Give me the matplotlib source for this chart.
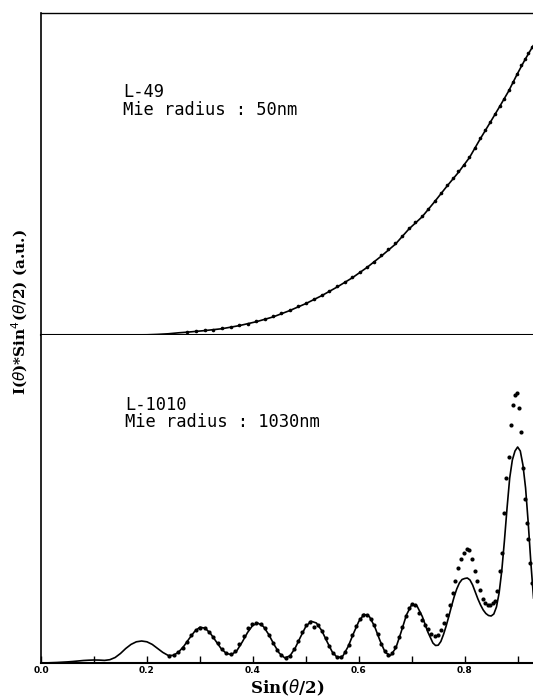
import matplotlib
matplotlib.use('Agg')
import matplotlib.pyplot as plt

# upper panel, L-49 (50 nm): measured points and Mie fit
top_x = [0.2756, 0.2924, 0.3090, 0.3256, 0.3420, 0.3584, 0.3746, 0.3907,
         0.4067, 0.4226, 0.4384, 0.4540, 0.4695, 0.4848, 0.5000, 0.5150,
         0.5299, 0.5446, 0.5592, 0.5736, 0.5878, 0.6018, 0.6157, 0.6293,
         0.6428, 0.6561, 0.6691, 0.6820, 0.6947, 0.7071, 0.7193, 0.7314,
         0.7431, 0.7547, 0.7660, 0.7771, 0.7880, 0.7986, 0.8090, 0.8192,
         0.8290, 0.8387, 0.8480, 0.8572, 0.8660, 0.8746, 0.8829, 0.8910,
         0.8988, 0.9063, 0.9135, 0.9205, 0.9272]
top_meas = [3.0, 3.9, 4.6, 5.4, 6.6, 8.3, 9.8, 11.5,
            13.7, 16.1, 18.6, 21.7, 25.0, 29.0, 32.0, 36.2,
            40.0, 43.9, 48.7, 53.2, 57.9, 62.9, 68.4, 73.4,
            80.0, 85.7, 91.6, 99.3, 107.0, 112.7, 118.9, 125.8,
            134.2, 142.3, 149.5, 156.6, 163.5, 170.1, 178.4, 187.3,
            196.6, 205.0, 213.2, 221.1, 229.2, 236.4, 244.6, 253.3,
            261.3, 269.5, 275.8, 282.0, 288.0]
top_fit_x = [0.0, 0.1, 0.15, 0.2, 0.22, 0.24, 0.26, 0.2756, 0.3090, 0.3420,
             0.3746, 0.4067, 0.4384, 0.4695, 0.5000, 0.5299, 0.5592, 0.5878,
             0.6157, 0.6428, 0.6691, 0.6947, 0.7193, 0.7431, 0.7660, 0.7880,
             0.8090, 0.8290, 0.8480, 0.8660, 0.8829, 0.8988, 0.9135, 0.9272,
             0.935]
top_fit = [0.0, 0.0, 0.0, 0.2, 0.6, 1.2, 2.2, 2.8, 4.4, 6.3,
           9.4, 13.3, 18.1, 24.4, 31.4, 39.3, 48.0, 57.2,
           67.6, 79.0, 90.8, 106.0, 118.0, 133.2, 148.5, 162.5,
           177.4, 195.8, 212.4, 228.4, 243.8, 260.5, 275.0, 287.4,
           294.0]

# lower panel, L-1010 (1030 nm)
bot_fit_x = [0.00, 0.01, 0.02, 0.03, 0.04, 0.05, 0.06, 0.07, 0.08, 0.09,
             0.10, 0.11, 0.12, 0.13, 0.14, 0.15, 0.16, 0.17, 0.18, 0.19,
             0.20, 0.21, 0.22, 0.23, 0.24, 0.25, 0.26, 0.27, 0.28, 0.29,
             0.30, 0.31, 0.32, 0.33, 0.34, 0.35, 0.36, 0.37, 0.38, 0.39,
             0.40, 0.41, 0.42, 0.43, 0.44, 0.45, 0.46, 0.47, 0.48, 0.49,
             0.50, 0.51, 0.52, 0.53, 0.54, 0.55, 0.56, 0.57, 0.58, 0.59,
             0.60, 0.61, 0.62, 0.63, 0.64, 0.65, 0.66, 0.67, 0.68, 0.69,
             0.70, 0.71, 0.72, 0.73, 0.74, 0.745, 0.75, 0.755, 0.76, 0.765,
             0.77, 0.775, 0.78, 0.785, 0.79, 0.795, 0.80, 0.805, 0.81, 0.815,
             0.82, 0.825, 0.83, 0.835, 0.84, 0.845, 0.85, 0.855, 0.86, 0.865,
             0.87, 0.875, 0.88, 0.885, 0.89, 0.895, 0.90, 0.905, 0.91, 0.915,
             0.92, 0.925, 0.93]
bot_fit = [0.0, 0.1, 0.3, 0.5, 0.8, 1.1, 1.5, 2.0, 2.5, 2.8,
           3.0, 2.9, 2.6, 3.3, 5.5, 9.5, 14.5, 18.6, 21.2, 22.0,
           21.2, 18.6, 14.6, 10.6, 7.6, 7.6, 11.0, 17.0, 24.5, 31.5,
           35.8, 34.8, 29.5, 22.0, 14.5, 9.5, 8.4, 12.5, 21.0, 30.5,
           37.8, 39.8, 36.5, 28.5, 18.5, 9.8, 5.2, 7.0, 15.0, 26.0,
           36.5, 41.8, 40.0, 32.5, 21.5, 11.0, 5.2, 7.0, 16.5, 29.5,
           41.5, 48.8, 46.5, 36.5, 22.5, 10.5, 7.5, 15.0, 31.0, 48.0,
           58.5, 57.0, 46.5, 31.5, 20.0, 17.5, 17.8, 21.5, 28.5, 37.0,
           46.5, 56.5, 66.0, 74.0, 80.0, 83.5, 84.5, 85.0, 83.0, 78.0,
           71.0, 64.0, 58.0, 53.0, 49.5, 47.5, 47.0, 49.0, 56.0, 70.0,
           92.0, 122.0, 155.0, 185.0, 203.0, 212.0, 216.0, 212.0, 198.0, 175.0,
           140.0, 100.0, 65.0]

bot_x = [0.2419, 0.2504, 0.2588, 0.2672, 0.2756, 0.2840, 0.2924, 0.3007,
         0.3090, 0.3173, 0.3256, 0.3338, 0.3420, 0.3502, 0.3584, 0.3665,
         0.3746, 0.3827, 0.3907, 0.3987, 0.4067, 0.4147, 0.4226, 0.4305,
         0.4384, 0.4462, 0.4540, 0.4617, 0.4695, 0.4772, 0.4848, 0.4924,
         0.5000, 0.5075, 0.5150, 0.5225, 0.5299, 0.5373, 0.5446, 0.5519,
         0.5592, 0.5664, 0.5736, 0.5807, 0.5878, 0.5948, 0.6018, 0.6088,
         0.6157, 0.6225, 0.6293, 0.6361, 0.6428, 0.6494, 0.6561, 0.6626,
         0.6691, 0.6756, 0.6820, 0.6884, 0.6947, 0.7009, 0.7071, 0.7133,
         0.7193, 0.7254, 0.7314, 0.7373, 0.7431, 0.7490, 0.7547, 0.7604,
         0.7660, 0.7716, 0.7771, 0.7826, 0.7880, 0.7934, 0.7986, 0.8039,
         0.8090, 0.8141, 0.8192, 0.8241, 0.8290, 0.8339, 0.8387, 0.8434,
         0.8480, 0.8526, 0.8572, 0.8616, 0.8660, 0.8704, 0.8746, 0.8788,
         0.8829, 0.8870, 0.8910, 0.8949, 0.8988, 0.9026, 0.9063, 0.9100,
         0.9135, 0.9171, 0.9205, 0.9239, 0.9272]
bot_meas = [7.5, 8.5, 11.0, 15.5, 21.5, 28.0, 33.0, 35.5,
            35.0, 31.5, 26.5, 20.5, 14.5, 10.5, 9.0, 12.0,
            19.5, 27.5, 35.0, 39.5, 40.5, 39.0, 35.0, 28.5,
            20.5, 13.5, 8.5, 5.5, 7.5, 14.0, 22.5, 31.0,
            38.0, 41.5, 36.0, 38.0, 32.0, 25.0, 17.0, 10.0,
            6.0, 6.5, 11.0, 18.5, 28.5, 37.0, 44.0, 48.5,
            48.0, 44.5, 38.0, 29.0, 19.5, 12.0, 8.0, 10.0,
            16.0, 26.0, 36.0, 47.0, 55.0, 59.0, 58.0, 50.0,
            43.0, 38.0, 34.0, 29.0, 27.0, 28.0, 33.0, 40.0,
            48.0, 58.0, 70.0, 82.0, 95.0, 104.0, 110.0, 114.0,
            113.0, 104.0, 92.0, 82.0, 73.0, 64.0, 60.0, 58.0,
            58.0, 60.0, 62.0, 72.0, 92.0, 110.0, 150.0, 185.0,
            206.0, 238.0, 258.0, 268.0, 270.0, 255.0, 231.0, 195.0,
            164.0, 140.0, 124.0, 100.0, 80.0]

x_ticks = [0.0, 0.1, 0.2, 0.3, 0.4, 0.5, 0.6, 0.7, 0.8, 0.9]
x_labels = ['0.0', '', '0.2', '', '0.4', '', '0.6', '', '0.8', '']

W, H = 533, 697
fig = plt.figure(figsize=(W / 100, H / 100), dpi=100)
left = 41 / W
ax_top = fig.add_axes([left, (H - 335) / H, 1 - left, 322 / H])
ax_bot = fig.add_axes([left, 34 / H, 1 - left, 328 / H])

ax_top.plot(top_fit_x, top_fit, color='black', lw=1.2)
ax_top.plot(top_x, top_meas, 'o', color='black', ms=2.6, mew=0)
ax_top.set_xlim(0, 0.929)
ax_top.set_ylim(0, 322)

ax_bot.plot(bot_fit_x, bot_fit, color='black', lw=1.2)
ax_bot.plot(bot_x, bot_meas, 'o', color='black', ms=3.0, mew=0)
ax_bot.set_xlim(0, 0.929)
ax_bot.set_ylim(0, 328)

for ax in (ax_top, ax_bot):
    ax.spines['right'].set_visible(False)
    ax.spines['left'].set_linewidth(1.2)
    ax.set_yticks([])
ax_top.spines['top'].set_linewidth(1.0)
ax_top.spines['bottom'].set_linewidth(1.5)
ax_bot.spines['top'].set_visible(False)
ax_bot.spines['bottom'].set_linewidth(1.5)
ax_top.set_xticks([])

ax_bot.set_xticks(x_ticks)
ax_bot.set_xticklabels(x_labels, fontsize=6.5, fontweight='bold')
ax_bot.tick_params(axis='x', direction='in', length=5, width=1, pad=2)

ax_bot.set_xlabel(r'Sin($\theta$/2)', fontsize=12, fontweight='bold',
                  family='DejaVu Serif', labelpad=2)

fig.text(20 / W, 1 - 312 / H, r'I($\theta$)*Sin$^4$($\theta$/2) (a.u.)',
         rotation=90, ha='center', va='center', fontsize=11,
         fontweight='bold', family='DejaVu Serif')

fig.text(123 / W, 1 - 83 / H, 'L-49\nMie radius : 50nm', ha='left', va='top',
         fontsize=12.3, family='DejaVu Sans Mono', linespacing=1.0)
fig.text(125 / W, 1 - 396 / H, 'L-1010\nMie radius : 1030nm', ha='left',
         va='top', fontsize=12.3, family='DejaVu Sans Mono', linespacing=0.95)

fig.savefig('out.png', dpi=100)
